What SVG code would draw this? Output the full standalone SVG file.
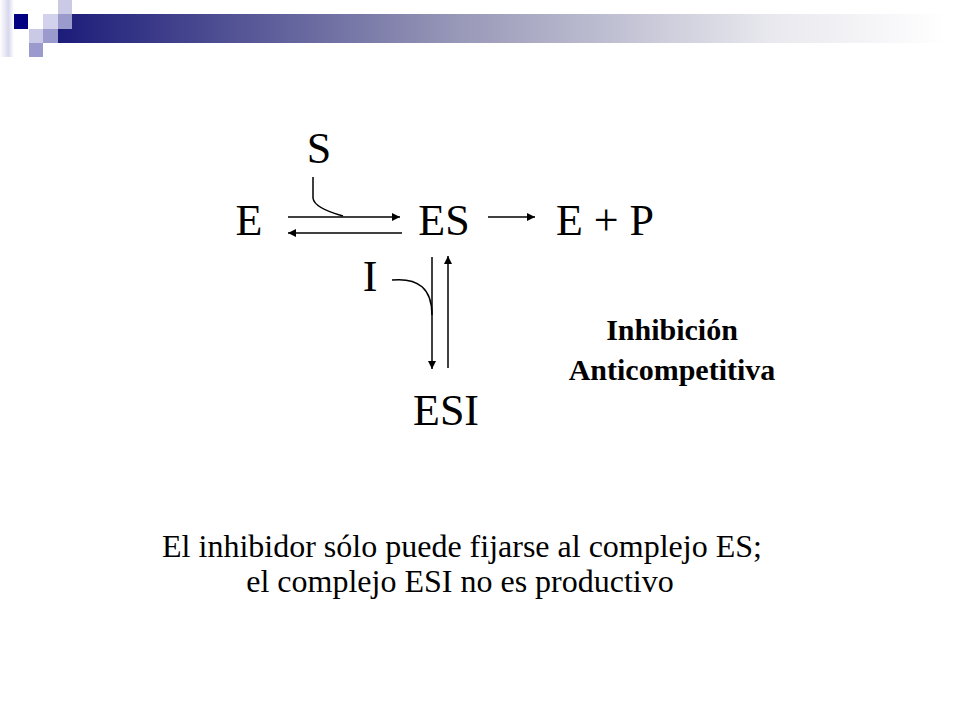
<svg xmlns="http://www.w3.org/2000/svg" width="960" height="720" viewBox="0 0 960 720">
<defs>
<linearGradient id="bar" x1="0" y1="0" x2="1" y2="0">
<stop offset="0" stop-color="#1c1c7a"/>
<stop offset="0.45" stop-color="#9898b8"/>
<stop offset="0.8" stop-color="#e8e8ee"/>
<stop offset="1" stop-color="#ffffff"/>
</linearGradient>
<linearGradient id="edge" x1="0" y1="0" x2="1" y2="0">
<stop offset="0" stop-color="#ffffff"/>
<stop offset="0.6" stop-color="#d8d8ee"/>
<stop offset="1" stop-color="#ffffff"/>
</linearGradient>
<marker id="ah" viewBox="0 0 10 10" refX="10" refY="5" markerWidth="8" markerHeight="8" markerUnits="userSpaceOnUse" orient="auto">
<path d="M0,0 L10,5 L0,10 z" fill="#000"/>
</marker>
<style>
text{font-family:'Liberation Serif','Times New Roman','DejaVu Serif',serif;fill:#000}
.big{font-size:44px}
.lbl{font-size:30px;font-weight:bold;text-anchor:middle}
.note{font-size:32px;text-anchor:middle}
.ln{stroke:#000;stroke-width:1.5;fill:none}
.arr{stroke:#000;stroke-width:1.5;fill:none;marker-end:url(#ah)}
</style>
</defs>
<rect width="960" height="720" fill="#fff"/>
<g id="header">
<rect x="0" y="0" width="14" height="57" fill="url(#edge)"/>
<rect x="58" y="14" width="890" height="29" fill="url(#bar)"/>
<rect x="14" y="14" width="14" height="15" fill="#000080"/>
<rect x="58" y="0" width="14" height="14" fill="#cacae6"/>
<rect x="43" y="14" width="15" height="15" fill="#d2d2ec"/>
<rect x="58" y="14" width="14" height="15" fill="#9a9acc"/>
<rect x="29" y="29" width="14" height="14" fill="#cacae6"/>
<rect x="43" y="29" width="15" height="14" fill="#9a9acc"/>
<rect x="29" y="43" width="14" height="14" fill="#9a9acc"/>
</g>
<g id="node-S"><text class="big" x="319" y="163" text-anchor="middle">S</text></g>
<g id="node-E"><text class="big" x="249" y="235" text-anchor="middle">E</text></g>
<g id="node-ES"><text class="big" x="444" y="235" text-anchor="middle">ES</text></g>
<g id="node-EP"><text class="big" x="605" y="235" text-anchor="middle">E + P</text></g>
<g id="node-I"><text class="big" x="370" y="291" text-anchor="middle">I</text></g>
<g id="node-ESI"><text class="big" x="446" y="425" text-anchor="middle">ESI</text></g>
<g id="label"><text class="lbl" x="672" y="340">Inhibición</text><text class="lbl" x="672" y="380">Anticompetitiva</text></g>
<g id="note"><text class="note" x="462" y="557">El inhibidor sólo puede fijarse al complejo ES;</text><text class="note" x="460" y="592">el complejo ESI no es productivo</text></g>
<g id="connectors">
<line class="arr" x1="288" y1="217" x2="400" y2="217"/>
<line class="arr" x1="402" y1="233" x2="288" y2="233"/>
<path class="ln" d="M313,177 L313,198 Q314,208 343,216"/>
<line class="arr" x1="488" y1="217" x2="535" y2="217"/>
<path class="ln" d="M392,280 Q432,276 432,315"/>
<line class="arr" x1="432" y1="257" x2="432" y2="369"/>
<line class="arr" x1="448" y1="368" x2="448" y2="256"/>
</g>
</svg>
